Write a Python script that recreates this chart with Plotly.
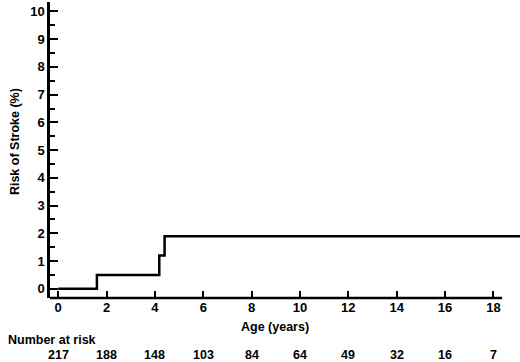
import plotly.graph_objects as go

# Step-function data (Kaplan-Meier style)
age_years = [0, 1.6, 1.6, 4.18, 4.18, 4.4, 4.4, 19.5]
risk_pct = [0, 0, 0.5, 0.5, 1.2, 1.2, 1.9, 1.9]

risk_ages = [0, 2, 4, 6, 8, 10, 12, 14, 16, 18]
number_at_risk = [217, 188, 148, 103, 84, 64, 49, 32, 16, 7]

x_ticks = [0, 2, 4, 6, 8, 10, 12, 14, 16, 18]
y_ticks = list(range(0, 11))

FONT = "Liberation Sans, Arial, sans-serif"
XMIN, XMAX = -0.34, 19.1
YMIN, YMAX = -0.33, 10.34

fig = go.Figure()
fig.add_trace(go.Scatter(x=age_years, y=risk_pct, mode="lines",
                         line=dict(color="black", width=2.5, shape="linear"),
                         hoverinfo="skip", showlegend=False))

fig.update_layout(
    width=520, height=362,
    margin=dict(l=50, r=0, t=2, b=64, autoexpand=False),
    paper_bgcolor="white", plot_bgcolor="white",
    font=dict(family=FONT, size=13, color="black"),
    xaxis=dict(range=[XMIN, XMAX], tickvals=x_ticks,
               ticktext=[f"<b>{v}</b>" for v in x_ticks],
               ticks="inside", ticklen=7, tickwidth=2, tickcolor="black",
               showgrid=False, zeroline=False, showline=False,
               automargin=False, tickfont=dict(size=13)),
    yaxis=dict(range=[YMIN, YMAX], tickvals=y_ticks,
               ticktext=[f"<b>{v}</b>" for v in y_ticks],
               ticks="inside", ticklen=8, tickwidth=2, tickcolor="black",
               showgrid=False, zeroline=False, showline=True,
               linecolor="black", linewidth=2.5, automargin=False,
               tickfont=dict(size=13),
               minor=dict(dtick=0.5, tick0=0, ticks="inside", ticklen=5,
                          tickwidth=2, tickcolor="black", showgrid=False)),
)

# x-axis line ending at ~18.36
fig.add_shape(type="line", xref="x", yref="paper", x0=XMIN, x1=18.36, y0=0, y1=0,
              line=dict(color="black", width=2.5))

# axis titles
fig.add_annotation(text="<b>Age (years)</b>", xref="paper", yref="paper",
                   x=0.479, y=-0.097, showarrow=False, font=dict(size=12.5),
                   xanchor="center", yanchor="middle")
fig.add_annotation(text="<b>Risk of Stroke (%)</b>", xref="paper", yref="paper",
                   x=-0.0745, y=0.53, textangle=-90, showarrow=False,
                   font=dict(size=12.5), xanchor="center", yanchor="middle")

# Number at risk table
fig.add_annotation(text="<b>Number at risk</b>", xref="paper", yref="paper",
                   x=-0.093, y=-0.143, showarrow=False, font=dict(size=12.5),
                   xanchor="left", yanchor="middle")
for a, n in zip(risk_ages, number_at_risk):
    fig.add_annotation(text=f"<b>{n}</b>", xref="x", yref="paper",
                       x=a, y=-0.194, showarrow=False, font=dict(size=12.5),
                       xanchor="center", yanchor="middle")

fig.write_html("out.html", config={"displayModeBar": False},
               post_script="document.body.style.margin='0';")
